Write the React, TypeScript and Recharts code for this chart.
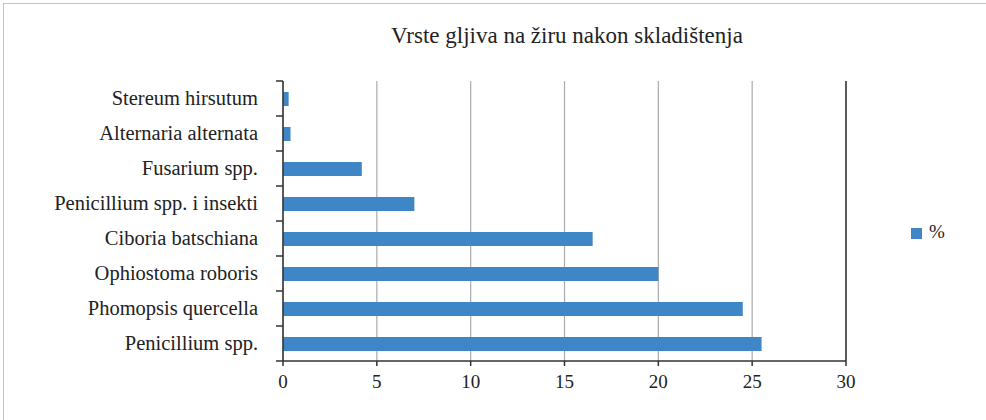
import { BarChart, Bar, XAxis, YAxis, CartesianGrid, Legend, ReferenceLine } from 'recharts';

const categories = [
  'Stereum hirsutum',
  'Alternaria alternata',
  'Fusarium spp.',
  'Penicillium spp. i insekti',
  'Ciboria batschiana',
  'Ophiostoma roboris',
  'Phomopsis quercella',
  'Penicillium spp.',
];
const percentValues = [0.3, 0.4, 4.2, 7.0, 16.5, 20.0, 24.5, 25.5];
const xTicks = [0, 5, 10, 15, 20, 25, 30];

const data = categories.map((name, i) => ({ name, pct: percentValues[i] }));

const FONT = 'Liberation Serif';
const BAND = 35;

const CategoryTick = (props: any) => {
  const { x, y, payload, index, visibleTicksCount } = props;
  const axisX = x + 25;
  return (
    <g>
      <line x1={axisX - 7} x2={axisX} y1={y - BAND / 2} y2={y - BAND / 2} stroke="#333" strokeWidth={1.5} />
      {index === visibleTicksCount - 1 && (
        <line x1={axisX - 7} x2={axisX} y1={y + BAND / 2} y2={y + BAND / 2} stroke="#333" strokeWidth={1.5} />
      )}
      <text x={x} y={y} dy={6} textAnchor="end" fill="#222" fontSize={20.5} fontFamily={FONT}>
        {payload.value}
      </text>
    </g>
  );
};

const App = () => {
  return (
    <div style={{ position: 'absolute', left: 0, top: 0, width: 986, height: 420, overflow: 'hidden', background: '#fff' }}>
      <div style={{ position: 'absolute', left: 3, top: 3, width: 1000, height: 430, border: '1px solid #c4c4c4' }} />
      <div
        style={{
          position: 'absolute', left: 0, width: 1134, top: 23, textAlign: 'center',
          fontFamily: FONT, fontSize: 23, color: '#222', lineHeight: 'normal',
        }}
      >
        Vrste gljiva na žiru nakon skladištenja
      </div>
      <BarChart
        width={986}
        height={420}
        data={data}
        layout="vertical"
        margin={{ top: 81, right: 70, bottom: 0, left: 0 }}
        barSize={14}
        style={{ position: 'absolute', left: 0, top: 0, fontFamily: FONT }}
      >
        <CartesianGrid horizontal={false} stroke="#ababab" strokeWidth={1.2} />
        <XAxis
          type="number"
          domain={[0, 30]}
          ticks={xTicks}
          height={59}
          tickSize={5}
          tickMargin={9}
          stroke="#333"
          strokeWidth={1.5}
          tick={{ fill: '#222', fontSize: 19, fontFamily: FONT }}
        />
        <XAxis xAxisId="top" type="number" domain={[0, 30]} orientation="top" height={0} tick={false} tickLine={false} stroke="#333" strokeWidth={1.5} />
        <YAxis
          type="category"
          dataKey="name"
          width={283}
          tickLine={false}
          tickSize={0}
          tickMargin={25}
          stroke="#333"
          strokeWidth={1.5}
          interval={0}
          tick={<CategoryTick />}
        />
        <ReferenceLine x={30} stroke="#333" strokeWidth={1.5} />
        <Legend
          layout="vertical"
          align="right"
          verticalAlign="top"
          iconType="square"
          iconSize={11}
          wrapperStyle={{ position: 'absolute', left: 911, top: 221, width: 70, fontFamily: FONT, fontSize: 19 }}
          formatter={(value: string) => <span style={{ color: '#222', marginLeft: 3 }}>{value}</span>}
        />
        <Bar dataKey="pct" name="%" fill="#3f86c6" isAnimationActive={false} />
      </BarChart>
    </div>
  );
};

export default App;
